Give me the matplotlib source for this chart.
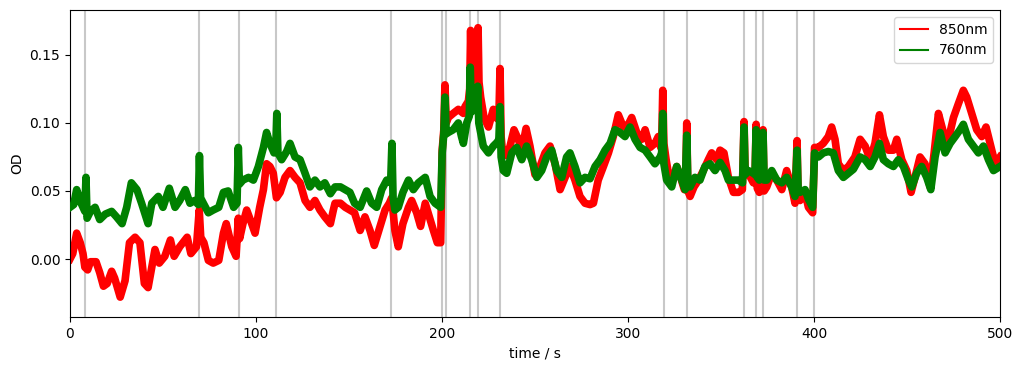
import matplotlib
matplotlib.use("Agg")
import matplotlib.pyplot as plt
from matplotlib.lines import Line2D

# values (time in s, OD)
t_850 = [0, 1.5, 3.6, 5.5, 7, 8.0, 9.5, 11, 14, 16, 18, 20, 22.4, 24, 27, 29.6, 32, 35, 37.6, 40,
         42, 45.7, 48, 51, 54, 56, 59, 63, 65, 68, 69.5, 70.3, 72, 74.4, 77, 80, 82.5, 84, 87, 89.3,
         90.5, 91.2, 93, 95, 97.7, 99.5, 102, 104, 105.7, 107.5, 109.3, 111, 113, 115.6, 118.3, 121,
         123.7, 126.4, 129, 131.7, 134.4, 137, 140, 141.6, 142.5, 145.4, 148, 150.5, 153, 156, 158.6,
         161.3, 163.6, 166.7, 169.4, 171.7, 173, 174.7, 176.5, 179, 182, 183.7, 186.4, 188.5, 191,
         193.2, 195.4, 197.5, 199.3, 200.1, 201.0, 201.6, 202.3, 203.4, 206, 208.8, 211.5, 212.4,
         214.2, 214.9, 215.4, 215.9, 216.9, 218.3, 218.9, 219.4, 219.9, 220.8, 222.6, 225, 227.6,
         229.8, 230.6, 231.2, 231.8, 232.6, 234.8, 236.6, 238.7, 241, 242.9, 245.2, 247.3, 250,
         252.7, 255.4, 258.1, 260.8, 263.5, 266.2, 268.8, 271.5, 274.2, 276.9, 279.6, 281.4, 284,
         286.8, 289.5, 292.1, 294.8, 297.5, 300.2, 302, 304.7, 307.4, 309.2, 311.9, 314.5, 316.3,
         317.6, 318.2, 318.7, 319.3, 320.5, 322.6, 324.4, 326.2, 328.3, 330.3, 331.0, 331.6, 332.2,
         333.4, 335.5, 337.9, 340.5, 343.2, 345, 347.7, 349.5, 351.6, 354, 356.7, 359.4, 361.5,
         362.4, 363.0, 364.7, 367.4, 368.3, 368.9, 369.5, 370.6, 372.0, 372.6, 373.2, 374.6, 377.3,
         380, 382.7, 385.3, 388, 389.8, 390.9, 391.5, 392.5, 395.2, 397, 399.3, 400.3, 402.4, 405,
         407.7, 409.5, 411.3, 413.1, 415.8, 418.5, 422, 424.8, 427.5, 430.2, 432.8, 435.2, 437.3,
         440, 442.7, 444.5, 447.2, 449.9, 452.2, 454.3, 457, 459.7, 462.4, 464.6, 466.9, 469.6,
         472.3, 475, 477.6, 480.3, 482.1, 484.8, 487.5, 490.2, 492.5, 494.7, 497.4, 500]
od_850 = [0.000, 0.004, 0.019, 0.012, 0.004, -0.006, -0.008, -0.002, -0.002, -0.010, -0.020, -0.018,
          -0.009, -0.014, -0.028, -0.016, 0.012, 0.016, 0.012, -0.018, -0.021, 0.007, -0.003, 0.002,
          0.014, 0.002, 0.009, 0.016, 0.004, 0.009, 0.036, 0.016, 0.012, -0.001, -0.003, -0.001,
          0.019, 0.026, 0.009, 0.002, 0.030, 0.015, 0.026, 0.036, 0.026, 0.019, 0.038, 0.051, 0.070,
          0.068, 0.063, 0.045, 0.049, 0.060, 0.065, 0.060, 0.056, 0.043, 0.038, 0.043, 0.036, 0.031,
          0.026, 0.036, 0.041, 0.041, 0.038, 0.036, 0.034, 0.021, 0.031, 0.021, 0.010, 0.024, 0.036,
          0.041, 0.045, 0.021, 0.009, 0.026, 0.038, 0.043, 0.034, 0.024, 0.041, 0.031, 0.021, 0.012,
          0.012, 0.080, 0.095, 0.128, 0.100, 0.104, 0.107, 0.110, 0.107, 0.112, 0.116, 0.125, 0.168,
          0.130, 0.134, 0.137, 0.140, 0.170, 0.130, 0.119, 0.104, 0.097, 0.110, 0.103, 0.105, 0.140,
          0.090, 0.078, 0.076, 0.083, 0.095, 0.088, 0.080, 0.096, 0.083, 0.062, 0.068, 0.078, 0.083,
          0.070, 0.051, 0.060, 0.068, 0.058, 0.046, 0.041, 0.040, 0.041, 0.058, 0.068, 0.078, 0.090,
          0.106, 0.097, 0.099, 0.104, 0.093, 0.088, 0.095, 0.082, 0.085, 0.090, 0.082, 0.090, 0.124,
          0.085, 0.073, 0.056, 0.060, 0.068, 0.060, 0.051, 0.055, 0.100, 0.050, 0.046, 0.053, 0.058,
          0.065, 0.073, 0.078, 0.073, 0.080, 0.078, 0.060, 0.049, 0.049, 0.051, 0.101, 0.062, 0.063,
          0.056, 0.060, 0.099, 0.052, 0.049, 0.052, 0.095, 0.050, 0.053, 0.063, 0.058, 0.051, 0.065,
          0.053, 0.041, 0.087, 0.045, 0.043, 0.049, 0.038, 0.034, 0.082, 0.082, 0.085, 0.090, 0.097,
          0.088, 0.070, 0.065, 0.068, 0.075, 0.088, 0.083, 0.073, 0.085, 0.106, 0.090, 0.080, 0.080,
          0.088, 0.073, 0.065, 0.049, 0.060, 0.075, 0.070, 0.053, 0.078, 0.107, 0.093, 0.088, 0.104,
          0.114, 0.124, 0.119, 0.107, 0.095, 0.090, 0.097, 0.085, 0.070, 0.075]

t_760 = [0, 2, 3.6, 6, 8.0, 8.6, 9.2, 11, 13.5, 16, 19, 22.4, 25, 28, 30.5, 33, 36, 38.5, 42, 44,
         47.5, 50, 53.4, 56.5, 59, 62, 64.5, 67, 69.0, 69.6, 70.2, 71.7, 74.4, 77, 80, 82.5, 85, 88,
         89.8, 90.5, 91.1, 93, 96, 98.6, 101.3, 104, 105.7, 107.5, 109.7, 110.6, 111.2, 111.8, 113.8,
         116.5, 118.3, 121, 123.7, 126.4, 129, 131.7, 134.4, 137, 140, 142.5, 145.4, 148, 150.5, 153,
         156, 159.5, 162.2, 164.9, 167.6, 170.3, 172.4, 173.1, 173.7, 174.7, 176.5, 179, 182, 184.6,
         187.3, 191, 193.6, 196.3, 199.3, 200.1, 201.0, 201.6, 202.3, 203.4, 206, 208.8, 210.5,
         211.5, 213.3, 214.7, 215.2, 215.8, 216.9, 218.7, 219.2, 219.8, 220.5, 222.2, 225, 227.6,
         229.8, 230.6, 231.2, 231.8, 233, 234.8, 237.5, 240.2, 242.9, 245.5, 248.2, 251, 253.6,
         256.3, 259, 261.7, 264.4, 267, 268.8, 271.5, 274.2, 276.9, 279.6, 282.3, 285, 287.7, 290.4,
         293, 295.7, 298.4, 301.1, 303.8, 306.5, 309.2, 311.9, 314.5, 317.3, 318.1, 318.7, 319.3,
         320.8, 323.5, 326.2, 328.9, 330.7, 331.6, 332.2, 333.4, 336, 338.7, 341.4, 344.1, 346.8,
         349.5, 352.2, 354, 356.7, 359.4, 361.6, 362.4, 363.0, 364.7, 367.4, 368.3, 368.9, 369.5,
         370.6, 372.0, 372.6, 373.2, 374.6, 377.3, 380, 382.7, 385.3, 388, 389.8, 390.9, 391.5,
         392.5, 395.2, 397, 399.3, 400.3, 402.4, 405, 407.7, 410.4, 413.1, 415.8, 418.5, 421.2,
         424.8, 427.5, 430.2, 432.8, 435.2, 437.3, 440, 442.7, 445.4, 448.1, 450.8, 452.6, 455.2,
         457.9, 460.6, 462.8, 465.1, 467.8, 470.5, 473.2, 475.9, 478.5, 480.3, 483, 485.7, 488.4,
         491.1, 493.8, 496.5, 500]
od_760 = [0.038, 0.040, 0.051, 0.041, 0.035, 0.060, 0.030, 0.035, 0.038, 0.029, 0.033, 0.035, 0.031,
          0.026, 0.038, 0.056, 0.051, 0.041, 0.026, 0.041, 0.046, 0.038, 0.052, 0.038, 0.043, 0.051,
          0.041, 0.043, 0.040, 0.076, 0.045, 0.041, 0.034, 0.036, 0.038, 0.049, 0.050, 0.038, 0.041,
          0.082, 0.055, 0.058, 0.060, 0.058, 0.068, 0.082, 0.093, 0.085, 0.078, 0.080, 0.107, 0.078,
          0.073, 0.079, 0.085, 0.075, 0.073, 0.063, 0.053, 0.058, 0.053, 0.056, 0.048, 0.053, 0.053,
          0.051, 0.049, 0.041, 0.038, 0.050, 0.041, 0.038, 0.051, 0.058, 0.056, 0.085, 0.045, 0.036,
          0.038, 0.049, 0.058, 0.051, 0.056, 0.060, 0.046, 0.041, 0.038, 0.078, 0.092, 0.119, 0.092,
          0.093, 0.095, 0.100, 0.090, 0.085, 0.100, 0.105, 0.141, 0.108, 0.110, 0.115, 0.127, 0.100,
          0.095, 0.083, 0.078, 0.083, 0.086, 0.088, 0.112, 0.075, 0.065, 0.063, 0.078, 0.082, 0.073,
          0.083, 0.073, 0.060, 0.065, 0.075, 0.080, 0.065, 0.060, 0.075, 0.078, 0.068, 0.056, 0.060,
          0.059, 0.068, 0.073, 0.080, 0.085, 0.095, 0.093, 0.090, 0.097, 0.088, 0.082, 0.080, 0.075,
          0.070, 0.075, 0.078, 0.107, 0.070, 0.058, 0.053, 0.068, 0.058, 0.051, 0.091, 0.055, 0.053,
          0.060, 0.058, 0.068, 0.070, 0.065, 0.071, 0.065, 0.058, 0.058, 0.058, 0.056, 0.097, 0.062,
          0.065, 0.063, 0.062, 0.095, 0.060, 0.058, 0.060, 0.093, 0.058, 0.058, 0.065, 0.058, 0.056,
          0.060, 0.053, 0.046, 0.080, 0.050, 0.049, 0.051, 0.044, 0.038, 0.078, 0.075, 0.078, 0.079,
          0.078, 0.065, 0.060, 0.063, 0.066, 0.075, 0.073, 0.068, 0.075, 0.085, 0.073, 0.070, 0.068,
          0.073, 0.068, 0.058, 0.053, 0.063, 0.068, 0.060, 0.051, 0.075, 0.093, 0.078, 0.085, 0.090,
          0.095, 0.099, 0.088, 0.083, 0.078, 0.083, 0.073, 0.065, 0.068]

# event markers (s)
events = [8.1, 69.5, 90.9, 111.0, 172.8, 200.1, 201.9, 215.2, 219.1, 231.0,
          319.2, 331.5, 362.4, 368.7, 372.5, 390.8, 399.9]

fig = plt.figure(figsize=(10.23, 3.71), dpi=100)
ax = fig.add_axes([0.0684, 0.1456, 0.9091, 0.8274])

for ev in events:
    ax.axvline(ev, color="#c8c8c8", lw=1.5, zorder=1)

# thick lines stand in for the noisy band of the raw traces
ax.plot(t_850, od_850, color="red", lw=5.5, solid_joinstyle="round", zorder=2)
ax.plot(t_760, od_760, color="green", lw=5.5, solid_joinstyle="round", zorder=3)

ax.set_xlim(0, 500)
ax.set_ylim(-0.0426, 0.183)
ax.set_yticks([0.00, 0.05, 0.10, 0.15])
ax.set_xlabel("time / s")
ax.set_ylabel("OD")

handles = [Line2D([], [], color="red", lw=1.5), Line2D([], [], color="green", lw=1.5)]
ax.legend(handles, ["850nm", "760nm"], loc="upper right")

fig.savefig("out.png", dpi=100)
